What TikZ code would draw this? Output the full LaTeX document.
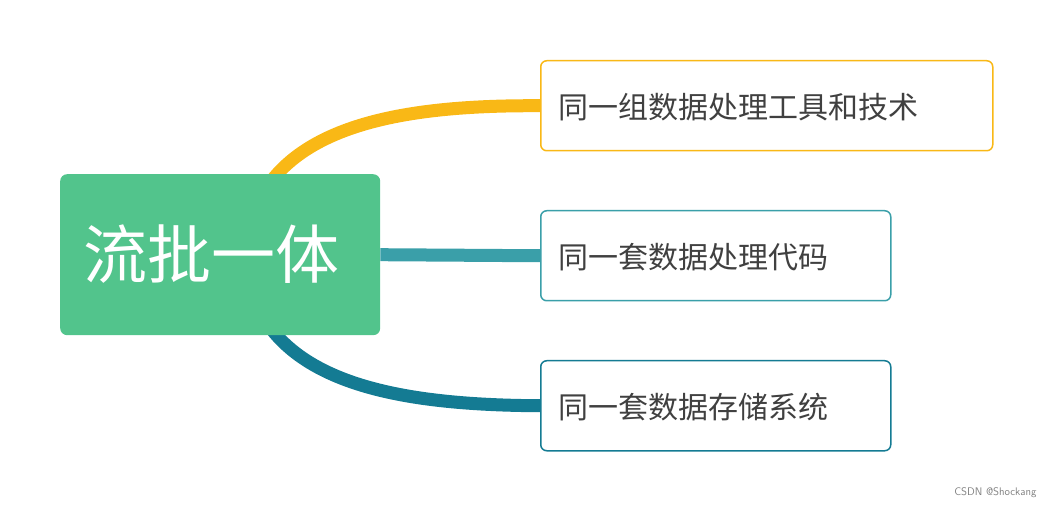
\documentclass[tikz,border=0pt]{standalone}
\usepackage{fontspec}
\newfontfamily\cjk{Noto Sans CJK SC}
\definecolor{cgreen}{HTML}{52C48C}
\definecolor{cyel}{HTML}{F9B816}
\definecolor{cteal}{HTML}{3A9FA9}
\definecolor{cdeep}{HTML}{147B93}
\definecolor{ctext}{HTML}{404040}
\begin{document}
\begin{tikzpicture}[x=1pt,y=-1pt,
  leaf/.style={draw,line width=1.5pt,rounded corners=6pt,fill=white,anchor=north west,inner sep=0pt,text=ctext,font=\cjk\fontsize{30}{34}\selectfont,align=left,text depth=0pt},
  conn/.style={line width=13pt}]
\useasboundingbox (0,0) rectangle (1052,510);
\coordinate (s1) at (265,190);
\coordinate (s3) at (265,320);
\node[leaf,draw=cyel,minimum width=452pt,minimum height=90pt,text width=440pt] (b1) at (540,60) {\hspace*{12pt}同一组数据处理工具和技术};
\node[leaf,draw=cteal,minimum width=350pt,minimum height=90pt,text width=338pt] (b2) at (540,210) {\hspace*{12pt}同一套数据处理代码};
\node[leaf,draw=cdeep,minimum width=350pt,minimum height=90pt,text width=338pt] (b3) at (540,360) {\hspace*{12pt}同一套数据存储系统};
\draw[conn,cyel] (s1) .. controls (310,120) and (420,105) .. (b1.west);
\draw[conn,cdeep] (s3) .. controls (310,390) and (420,405) .. (b3.west);
\node[fill=cgreen,rounded corners=7pt,minimum width=320pt,minimum height=161pt,anchor=north west,inner sep=0pt] (c) at (60,174) {};
\node[text=white,font=\cjk\fontsize{64}{70}\selectfont] (ct) at (211,254) {流批一体};
\draw[conn,cteal] (c.east) -- (b2.west);
\node[text=gray,font=\fontsize{11}{13}\selectfont\sffamily,anchor=east] (wm) at (1040,493) {CSDN @Shockang};
\end{tikzpicture}
\end{document}
